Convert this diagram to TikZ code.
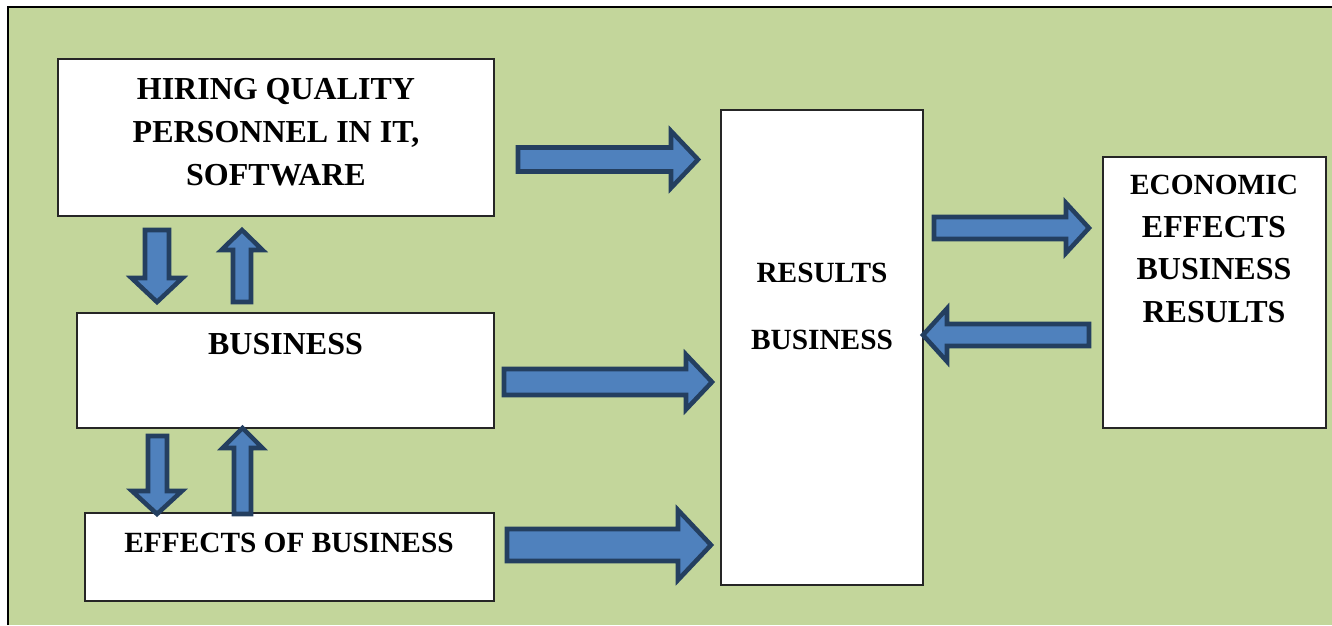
\documentclass[tikz,border=0pt]{standalone}
\usepackage{fontspec}
\setmainfont{Liberation Serif}
\usetikzlibrary{fit}
\definecolor{bggreen}{RGB}{195,214,155}
\definecolor{arrfill}{RGB}{79,129,189}
\definecolor{arrline}{RGB}{36,63,96}

\begin{document}
\begin{tikzpicture}[
  x=0.75pt,y=-0.75pt,
  font=\fontsize{22}{31.5}\selectfont\bfseries,
  box/.style={draw=black!85,fill=white,line width=0.8pt,inner sep=0pt},
  label/.style={align=center,inner sep=0pt},
  biglabel/.style={label,font=\fontsize{24}{32}\selectfont\bfseries},
  blockarr/.style={draw=arrline,fill=arrfill,line width=3.4pt,line join=miter}]

  \useasboundingbox (0,0) rectangle (1332,625);
  \fill[white] (0,0) rectangle (1332,625);
  \fill[bggreen] (8,7) rectangle (1332,625);
  \draw[line width=1.6pt] (8,625) -- (8,7) -- (1332,7);

  % left column
  \node[box,fit={(58,59) (494,216)}] (hire) {};
  \node[biglabel] (hiretxt) at (276,132) {HIRING QUALITY\\PERSONNEL IN IT,\\SOFTWARE};

  \node[box,fit={(77,313) (494,428)}] (biz) {};
  \node[biglabel] (biztxt) at (285.5,344) {BUSINESS};

  \node[box,fit={(85,513) (494,601)}] (eff) {};
  \node[label] (efftxt) at (289,543) {EFFECTS OF BUSINESS};

  % right side
  \node[box,fit={(721,110) (923,585)}] (res) {};
  \node[label] (restxt) at (822,306) {RESULTS\\[18.75pt]BUSINESS};

  \node[box,fit={(1103,157) (1326,428)}] (econ) {};
  \node[biglabel] (econtxt) at (1214,249)
    {{\fontsize{22}{31.5}\selectfont ECONOMIC}\\EFFECTS\\BUSINESS\\RESULTS};

  % block arrows towards results
  \draw[blockarr] (518,147.5) -- (671,147.5) -- (671,131) -- (698,159.5)
    -- (671,188) -- (671,171.5) -- (518,171.5) -- cycle;
  \draw[blockarr] (504,369) -- (686,369) -- (686,354.5) -- (712,382)
    -- (686,409.5) -- (686,395) -- (504,395) -- cycle;
  \draw[blockarr] (507,529) -- (678,529) -- (678,510) -- (711,545)
    -- (678,580) -- (678,561) -- (507,561) -- cycle;

  % between results and economic effects
  \draw[blockarr] (934,217) -- (1066,217) -- (1066,203) -- (1089,228)
    -- (1066,253) -- (1066,239) -- (934,239) -- cycle;
  \draw[blockarr] (923,335) -- (947,308.5) -- (947,324) -- (1089,324)
    -- (1089,346) -- (947,346) -- (947,361.5) -- cycle;

  % up and down between left boxes
  \draw[blockarr] (145,230) -- (169,230) -- (169,278) -- (182.5,278)
    -- (157,302) -- (131.5,278) -- (145,278) -- cycle;
  \draw[blockarr] (242,230) -- (262.5,250) -- (251,250) -- (251,302)
    -- (233,302) -- (233,250) -- (221.5,250) -- cycle;
  \draw[blockarr] (148,436) -- (167,436) -- (167,491) -- (182,491)
    -- (157,514) -- (132,491) -- (148,491) -- cycle;
  \draw[blockarr] (242.5,428) -- (262.5,448) -- (251,448) -- (251,514)
    -- (234,514) -- (234,448) -- (222.5,448) -- cycle;

\end{tikzpicture}
\end{document}
